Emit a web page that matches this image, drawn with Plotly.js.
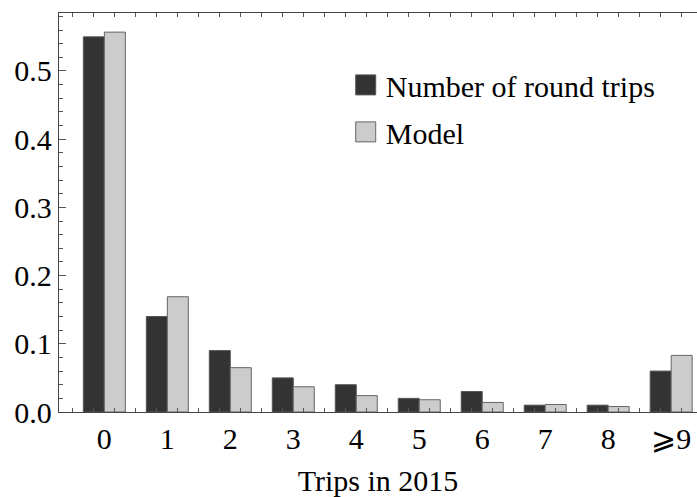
<!DOCTYPE html>
<html>
<head>
<meta charset="utf-8">
<script src="https://cdn.plot.ly/plotly-3.0.1.min.js"></script>
<style>
html,body{margin:0;padding:0;background:#fff;}
#chart{width:697px;height:497px;}
</style>
</head>
<body>
<div id="chart"></div>
<script>
var categories = ["0","1","2","3","4","5","6","7","8","\u2A7E9"];
var roundTrips = [0.550, 0.140, 0.090, 0.050, 0.040, 0.020, 0.030, 0.010, 0.010, 0.060];
var model      = [0.557, 0.169, 0.065, 0.037, 0.024, 0.018, 0.014, 0.011, 0.008, 0.083];
var seriesNames = ["Number of round trips", "Model"];
var yTickVals = [0, 0.1, 0.2, 0.3, 0.4, 0.5];

var FONT = "Liberation Serif, Times New Roman, serif";
var FS = 30;
var xr = [-0.72, 9.41];

var data = [
  {type:'bar', name:seriesNames[0], x:categories, y:roundTrips, legendgroup:'a',
   marker:{color:'#333333', line:{color:'#555555', width:1}}, hoverinfo:'x+y'},
  {type:'bar', name:seriesNames[1], x:categories, y:model, legendgroup:'b',
   marker:{color:'#cccccc', line:{color:'#666666', width:1}}, hoverinfo:'x+y'},
  {type:'scatter', x:[], y:[], xaxis:'x2', yaxis:'y', showlegend:false, hoverinfo:'skip'}
];

var layout = {
  width:697, height:497,
  margin:{l:59, r:0, t:13, b:85},
  paper_bgcolor:'#ffffff', plot_bgcolor:'#ffffff',
  font:{family:FONT, size:FS, color:'#000'},
  barmode:'group', bargap:1/3, bargroupgap:0,
  showlegend:true,
  legend:{x:0.4494, y:0.885, xanchor:'left', yanchor:'top', bgcolor:'rgba(0,0,0,0)',
          font:{family:FONT, size:FS, color:'#000'}, tracegroupgap:5, itemwidth:30},
  xaxis:{type:'category', range:xr, ticks:'', showline:true, mirror:true,
         linecolor:'#444', linewidth:1.2, showgrid:false, zeroline:false,
         tickfont:{family:FONT, size:FS, color:'#000'}, ticklabelstandoff:0},
  xaxis2:{overlaying:'x', anchor:'y', side:'bottom', type:'linear', range:xr, tick0:-1/6, dtick:1/3,
          ticks:'inside', ticklen:4, tickwidth:1, tickcolor:'#555', showticklabels:false,
          showline:false, mirror:'ticks', showgrid:false, zeroline:false,
          title:{text:'Trips in 2015', font:{family:FONT, size:FS, color:'#000'}, standoff:58}},
  yaxis:{range:[0,0.585], tickvals:yTickVals, tickformat:'.1f', ticks:'inside', ticklen:7,
         tickwidth:1, tickcolor:'#555',
         minor:{dtick:0.02, ticks:'inside', ticklen:4, tickcolor:'#555', tickwidth:1, showgrid:false},
         showline:true, mirror:false, linecolor:'#444', linewidth:1.2,
         showgrid:false, zeroline:false, ticklabelstandoff:0,
         tickfont:{family:FONT, size:FS, color:'#000'}}
};

Plotly.newPlot('chart', data, layout, {displayModeBar:false, staticPlot:true}).then(function(gd){
  var pts = gd.querySelectorAll('.legend .legendpoints path');
  for (var i = 0; i < pts.length; i++) {
    pts[i].setAttribute('d', 'M10,10H-10V-10H10Z');
  }
});
</script>
</body>
</html>
